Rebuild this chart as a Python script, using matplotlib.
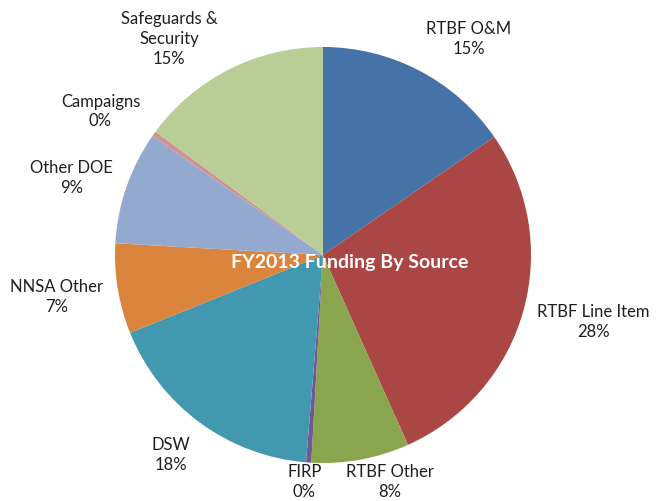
import matplotlib
matplotlib.use("Agg")
import matplotlib.pyplot as plt

# FY2013 funding shares (percent), clockwise from 12 o'clock
sources = ["RTBF O&M", "RTBF Line Item", "RTBF Other", "FIRP", "DSW",
           "NNSA Other", "Other DOE", "Campaigns", "Safeguards &\nSecurity"]
shares = [15.4, 27.9, 7.6, 0.4, 17.6, 7.0, 8.8, 0.4, 14.9]

COLORS = ["#4572A7", "#AA4643", "#89A54E", "#71588F", "#4198AF",
          "#DB843D", "#93A9CF", "#D19392", "#B9CD96"]
# label anchors in pie-radius units (Excel "best fit" placement)
LABEL_XY = [(0.70, 1.04), (1.30, -0.32), (0.32, -1.09), (-0.09, -1.09),
            (-0.73, -0.96), (-1.28, -0.20), (-1.21, 0.37), (-1.07, 0.69),
            (-0.74, 1.04)]

plt.rcParams["font.family"] = ["Lato", "DejaVu Sans"]

W, H = 663, 501
fig = plt.figure(figsize=(W / 100, H / 100), dpi=100)
fig.patch.set_facecolor("white")

cx, cy, r = 323, 255, 208
ax = fig.add_axes([(cx - r) / W, (H - cy - r) / H, 2 * r / W, 2 * r / H])

wedges, _ = ax.pie(shares, colors=COLORS, startangle=90, counterclock=False,
                   radius=1, wedgeprops=dict(linewidth=0))
ax.set_xlim(-1, 1)
ax.set_ylim(-1, 1)
ax.axis("off")

for (x, y), name, val in zip(LABEL_XY, sources, shares):
    ax.text(x, y, f"{name}\n{val:.0f}%", ha="center", va="center",
            fontsize=12, color="#1f1f1f", linespacing=1.3)

ax.text(0.127, -0.034, "FY2013 Funding By Source", ha="center", va="center",
        fontsize=14, fontweight="bold", color="white")

fig.savefig("out.png", dpi=100, facecolor="white")
